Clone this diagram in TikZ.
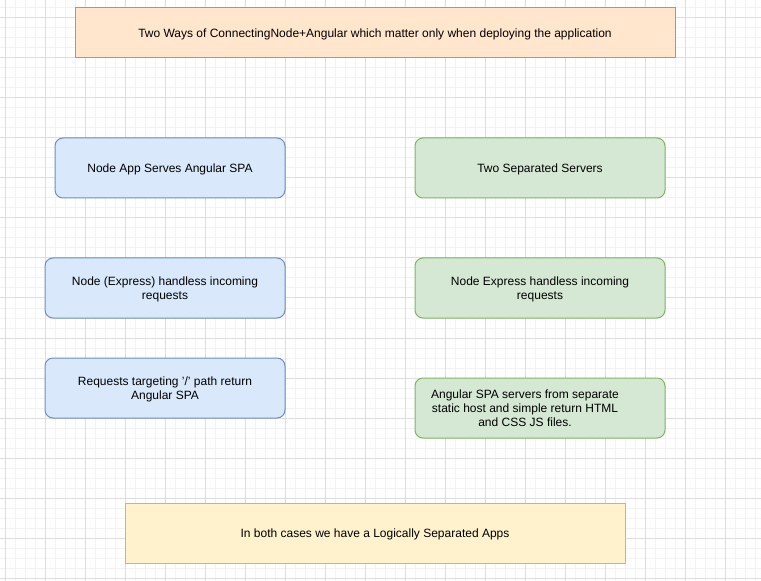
\documentclass[tikz,border=0pt]{standalone}
\usepackage{fontspec}
\setmainfont{Liberation Sans}
\definecolor{gridminor}{HTML}{F3F3F3}
\definecolor{gridmajor}{HTML}{DEDEDE}
\definecolor{orangefill}{HTML}{FFE6CC}
\definecolor{orangeline}{HTML}{D79B00}
\definecolor{bluefill}{HTML}{DAE8FC}
\definecolor{blueline}{HTML}{6C8EBF}
\definecolor{greenfill}{HTML}{D5E8D4}
\definecolor{greenline}{HTML}{82B366}
\definecolor{yellowfill}{HTML}{FFF2CC}
\definecolor{yellowline}{HTML}{D6B656}
\tikzset{
  box/.style={draw, line width=0.75pt, minimum height=45pt, align=center,
    font=\fontsize{9}{10.5}\selectfont, inner sep=0pt, text depth=0pt},
  bluebox/.style={box, rounded corners=6pt, fill=bluefill, draw=blueline},
  greenbox/.style={box, rounded corners=6pt, fill=greenfill, draw=greenline},
}
\begin{document}
\begin{tikzpicture}[x=0.75pt, y=-0.75pt]
\useasboundingbox (0,0) rectangle (761,581);
\fill[white] (0,0) rectangle (761,581);

% grid
\foreach \gx in {5,15,...,755} \draw[gridminor, line width=0.75pt] (\gx,0) -- (\gx,581);
\foreach \gy in {8,18,...,578} \draw[gridminor, line width=0.75pt] (0,\gy) -- (761,\gy);
\foreach \gx in {5,45,...,725} \draw[gridmajor, line width=0.75pt] (\gx,0) -- (\gx,581);
\foreach \gy in {18,58,...,578} \draw[gridmajor, line width=0.75pt] (0,\gy) -- (761,\gy);

\node[box, fill=orangefill, draw=orangeline, minimum width=450pt, minimum height=37.5pt] (title) at (375,33)
  {Two Ways of ConnectingNode+Angular which matter only when deploying the application};

% left column
\node[bluebox, minimum width=172.5pt] (serve) at (170,168) {Node App Serves Angular SPA};
\node[bluebox, minimum width=180pt] (express) at (165,288) {Node (Express) handless incoming\\requests};
\node[bluebox, minimum width=180pt] (target) at (165,388) {Requests targeting '/' path return\\Angular SPA};

% right column
\node[greenbox, minimum width=187.5pt] (twoserv) at (540,168) {Two Separated Servers};
\node[greenbox, minimum width=187.5pt] (nodeexp) at (540,288) {Node Express handless incoming\\requests};
\node[greenbox, minimum width=187.5pt] (spahost) at (540,408) {};
\node[align=center, font=\fontsize{9}{10.5}\selectfont, inner sep=0pt, text depth=0pt] (spatext) at (525,408)
  {Angular SPA servers from separate\\static host and simple return HTML\\and CSS JS files.};

\node[box, fill=yellowfill, draw=yellowline, minimum width=375pt] (both) at (375,533)
  {In both cases we have a Logically Separated Apps};
\end{tikzpicture}
\end{document}
